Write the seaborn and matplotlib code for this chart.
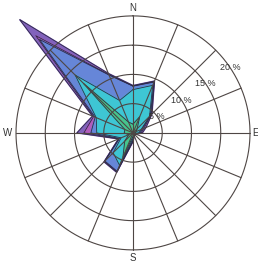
import numpy as np
import pandas as pd
import seaborn as sns
from matplotlib import pyplot as plt

# wind directions, clockwise from north
directions = ["N", "NNE", "NE", "ENE", "E", "ESE", "SE", "SSE",
              "S", "SSW", "SW", "WSW", "W", "WNW", "NW", "NNW"]

# cumulative frequency (%) of each stacked layer, outermost first
purple = [8.1, 9.6, 4.6, 2.4, 1.6, 0.6, 0.4, 0.6, 1.5, 7.3, 7.0, 2.7, 9.6, 7.5, 27.4, 11.0]
magenta = [8.0, 9.5, 4.4, 2.0, 1.4, 0.5, 0.3, 0.5, 1.4, 7.2, 6.9, 2.6, 8.4, 7.3, 23.5, 10.8]
blue = [8.0, 9.4, 4.2, 1.7, 1.2, 0.4, 0.3, 0.4, 1.3, 7.1, 6.8, 2.5, 7.2, 7.0, 22.6, 10.7]
cyan = [7.4, 8.8, 4.0, 1.5, 1.0, 0.3, 0.2, 0.3, 1.0, 6.0, 4.8, 2.2, 6.2, 6.8, 14.0, 6.0]
green = [1.5, 3.0, 1.0, 0.6, 0.4, 0.2, 0.1, 0.2, 0.6, 4.5, 2.0, 0.8, 1.5, 1.5, 12.0, 2.0]

ring_values = [5, 10, 15, 20]
ring_labels = ["5 %", "10 %", "15 %", "20 %"]
compass = ["N", "E", "S", "W"]

layers = {"purple": purple, "magenta": magenta, "blue": blue, "cyan": cyan, "green": green}
colors = ["#8262bc", "#b25cbc", "#6686d8", "#3ec6d4", "#46c48e"]

sns.set_style("white")
plt.rcParams["font.family"] = ["Liberation Sans", "DejaVu Sans"]

# long-form table for the closed polygons
theta = np.deg2rad(np.arange(len(directions)) * 22.5)
rows = []
for name, vals in layers.items():
    for t, v in zip(np.append(theta, theta[0]), vals + vals[:1]):
        rows.append({"layer": name, "theta": t, "r": v})
df = pd.DataFrame(rows)

fig = plt.figure(figsize=(2.58, 2.65), dpi=100)
ax = fig.add_axes([0.062, 0.057, 0.907, 0.883], projection="polar")
ax.set_theta_zero_location("N")
ax.set_theta_direction(-1)
ax.set_ylim(0, 20)
ax.grid(False)
ax.spines["polar"].set_visible(False)
ax.set_xticks([])
ax.set_yticks([])

# filled layers, outermost first
for (name, sub), col in zip(df.groupby("layer", sort=False), colors):
    ax.fill(sub["theta"], sub["r"], color=col, zorder=2, clip_on=False)

sns.lineplot(data=df, x="theta", y="r", hue="layer", palette=["#2e2a48"] * 5,
             sort=False, estimator=None, legend=False, lw=0.6, ax=ax, zorder=3)
for ln in ax.lines:
    ln.set_clip_on(False)
ax.set_xlabel("")
ax.set_ylabel("")

# grid on top
grid_col = "#4e4644"
circ = np.linspace(0, 2 * np.pi, 300)
for rv in ring_values:
    ax.plot(circ, np.full_like(circ, rv), color=grid_col, lw=0.8, zorder=4, clip_on=False)
for t in theta:
    ax.plot([t, t], [0, 20], color=grid_col, lw=0.8, zorder=4, clip_on=False)

for rv, lab in zip(ring_values, ring_labels):
    ax.text(np.deg2rad(56), rv, lab, fontsize=6.5, color="#333333",
            ha="center", va="center", zorder=5)

for i, lab in enumerate(compass):
    r = 21.0 if lab == "E" else 21.4
    ax.text(np.deg2rad(i * 90), r, lab, fontsize=7, color="#333333",
            ha="center", va="center", clip_on=False)

fig.savefig("out.png", dpi=100)
